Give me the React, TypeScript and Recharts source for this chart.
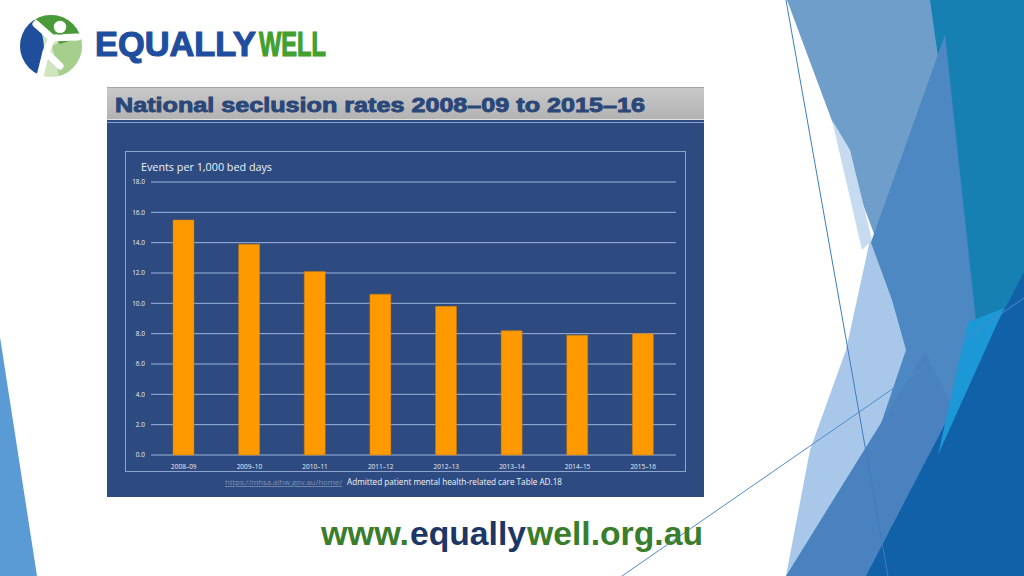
import React from 'react';
import { BarChart, Bar, XAxis, YAxis, CartesianGrid } from 'recharts';

// values (events per 1,000 bed days)
const years = ['2008–09', '2009–10', '2010–11', '2011–12', '2012–13', '2013–14', '2014–15', '2015–16'];
const rates = [15.5, 13.9, 12.1, 10.6, 9.8, 8.2, 7.9, 8.0];
const yTicks = [0, 2, 4, 6, 8, 10, 12, 14, 16, 18];

const data = years.map((year, i) => ({ year, rate: rates[i] }));

const NAVY = '#2d4b80';
const SANS = "'Open Sans', 'Noto Sans', sans-serif";
const ARIAL = "'Liberation Sans', Arial, sans-serif";

// background facets on the right of the slide
const facets = [
  { pts: '915,0 1024,0 1024,576 900,576', fill: '#1780b3' },
  { pts: '787,0 930,0 978,340 880,250', fill: '#6f9ecb' },
  { pts: '832,120 850,150 872,240 862,250', fill: '#c6dbf0' },
  { pts: '945,35 978,340 986,385 915,576 820,576 870,245', fill: '#4e88c2' },
  { pts: '870,240 892,300 906,350 872,450 834,550 822,576 786,576 810,450 846,350', fill: '#a9c8e9' },
  { pts: '786,576 925,352 962,425 905,576', fill: '#4a82bf' },
  { pts: '1024,272 1024,576 866,576', fill: '#1161a8' },
  { pts: '968,322 1004,308 938,455', fill: '#1b98d5' },
];

const App: React.FC = () => {
  return (
    <div
      style={{
        position: 'absolute',
        left: 0,
        top: 0,
        width: 1024,
        height: 576,
        overflow: 'hidden',
        background: '#ffffff',
      }}
    >
      <svg width={1024} height={576} style={{ position: 'absolute', left: 0, top: 0 }}>
        <defs>
          <linearGradient id="band" x1="0" y1="0" x2="0" y2="1">
            <stop offset="0%" stopColor="#c9c9c9" />
            <stop offset="100%" stopColor="#b3b3b3" />
          </linearGradient>
          <clipPath id="logoClip">
            <circle cx={51} cy={46} r={31} />
          </clipPath>
        </defs>

        {/* slide decoration */}
        <polygon points="0,337 37,576 0,576" fill="#5b9bd5" />
        {facets.map((f, i) => (
          <polygon key={i} points={f.pts} fill={f.fill} />
        ))}
        <line x1={786} y1={0} x2={888} y2={576} stroke="#3d7cc2" strokeWidth={1} />
        <line x1={622} y1={576} x2={1024} y2={298} stroke="#4f8bcb" strokeWidth={1} />

        {/* logo */}
        <g clipPath="url(#logoClip)">
          <rect x={18} y={13} width={66} height={66} fill="#cfe5c0" />
          <polygon points="52,46 84,30 84,80 60,80" fill="#a6cf8d" />
          <polygon points="30,13 84,13 84,36 60,44 46,30" fill="#4a9a3a" />
          <ellipse cx={27} cy={50} rx={17} ry={34} fill="#1f4e9c" />
        </g>
        <path d="M36,24 L52,38 L78,37 M52,38 L46,52 L40,76 M46,52 L60,66" stroke="#ffffff" strokeWidth={7} fill="none" strokeLinecap="round" strokeLinejoin="round" />
        <circle cx={60} cy={27} r={7} fill="#ffffff" stroke="#4a9a3a" strokeWidth={1.5} />

        <text x={95} y={56} fill="#1f4e9f" stroke="#1f4e9f" strokeWidth={1.2} fontFamily={ARIAL} fontWeight={700} fontSize={35} textLength={161} lengthAdjust="spacingAndGlyphs">
          EQUALLY
        </text>
        <text x={259} y={56} fill="#42a030" stroke="#42a030" strokeWidth={1.2} fontFamily={ARIAL} fontWeight={700} fontSize={35} textLength={67} lengthAdjust="spacingAndGlyphs">
          WELL
        </text>

        {/* chart picture frame */}
        <rect x={107} y={87} width={597} height={32} fill="url(#band)" />
        <line x1={107} y1={87.5} x2={704} y2={87.5} stroke="#a4a4a4" />
        <text x={115} y={112} fill="#2b4778" stroke="#2b4778" strokeWidth={0.9} fontFamily={ARIAL} fontWeight={700} fontSize={21} textLength={530} lengthAdjust="spacingAndGlyphs">
          National seclusion rates 2008–09 to 2015–16
        </text>
        <rect x={107} y={119} width={597} height={1} fill="#e2e2e2" />
        <rect x={107} y={120} width={597} height={2} fill="#2c4a84" />
        <rect x={107} y={122} width={597} height={1} fill="#8aa0c8" />
        <rect x={107} y={123} width={597} height={374} fill={NAVY} />
        <rect x={125.5} y={151.5} width={560} height={320} fill="none" stroke="#8ea4cc" strokeWidth={1} />

        <text x={141} y={171} fill="#eef1f7" fontFamily={SANS} fontSize={11.5} textLength={131} lengthAdjust="spacingAndGlyphs">
          Events per 1,000 bed days
        </text>

        <text x={225} y={485} fill="#7d91b6" fontFamily={SANS} fontSize={8} textLength={117} lengthAdjust="spacingAndGlyphs" textDecoration="underline">
          https://mhsa.aihw.gov.au/home/
        </text>
        <text x={347} y={485} fill="#f2f4f8" fontFamily={SANS} fontSize={8.5} textLength={215} lengthAdjust="spacingAndGlyphs">
          Admitted patient mental health-related care Table AD.18
        </text>

        {/* footer url */}
        <text x={321} y={545} fill="#3a7d2c" fontFamily={ARIAL} fontWeight={700} fontSize={34} textLength={88} lengthAdjust="spacingAndGlyphs">
          www.
        </text>
        <text x={410} y={545} fill="#1c3766" fontFamily={ARIAL} fontWeight={700} fontSize={34} textLength={116} lengthAdjust="spacingAndGlyphs">
          equally
        </text>
        <text x={527} y={545} fill="#3a7d2c" fontFamily={ARIAL} fontWeight={700} fontSize={34} textLength={176} lengthAdjust="spacingAndGlyphs">
          well.org.au
        </text>
      </svg>

      <div style={{ position: 'absolute', left: 107, top: 123 }}>
        <BarChart
          width={597}
          height={374}
          data={data}
          margin={{ top: 59, right: 28, left: 0, bottom: 0 }}
        >
          <CartesianGrid vertical={false} stroke="#9db3de" strokeWidth={1} />
          <XAxis
            dataKey="year"
            height={42}
            axisLine={false}
            tickLine={false}
            tickMargin={3}
            tick={{ fill: '#e8ecf5', fontSize: 6.5, fontFamily: SANS }}
          />
          <YAxis
            width={44}
            domain={[0, 18]}
            ticks={yTicks}
            interval={0}
            axisLine={false}
            tickLine={false}
            tickMargin={0}
            tickFormatter={(v: number) => v.toFixed(1)}
            tick={{ fill: '#e8ecf5', fontSize: 6.5, fontFamily: SANS }}
          />
          <Bar dataKey="rate" fill="#ff9900" stroke="#c97a00" strokeWidth={0.5} barSize={21} isAnimationActive={false} />
        </BarChart>
      </div>
    </div>
  );
};

export default App;
